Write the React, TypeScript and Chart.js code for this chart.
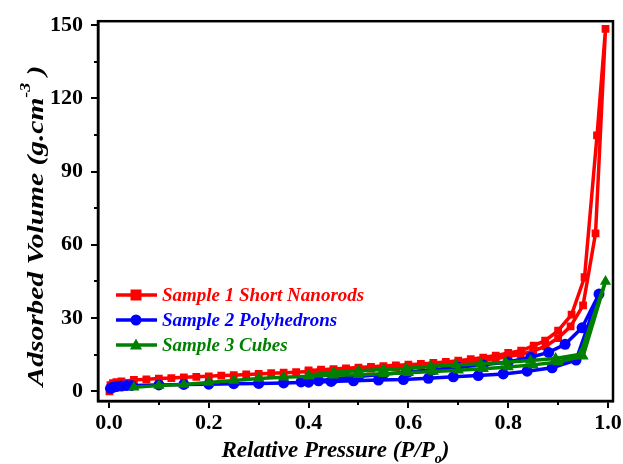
import React, { useEffect, useRef } from 'react';
import { Chart, registerables } from 'chart.js';

Chart.register(...registerables);

// Sample 1 Short Nanorods (adsorption then desorption)
const s1X = [0.001, 0.003, 0.008, 0.015, 0.025, 0.05, 0.075, 0.1, 0.125, 0.15, 0.175, 0.2, 0.225, 0.25, 0.275, 0.3, 0.325, 0.35, 0.375, 0.4, 0.425, 0.45, 0.475, 0.5, 0.525, 0.55, 0.575, 0.6, 0.625, 0.65, 0.675, 0.7, 0.725, 0.75, 0.775, 0.8, 0.825, 0.85, 0.875, 0.9, 0.925, 0.95, 0.975, 0.995,
  0.978, 0.953, 0.927, 0.9, 0.874, 0.851, 0.826, 0.8, 0.775, 0.75, 0.725, 0.7, 0.675, 0.65, 0.625, 0.6, 0.575, 0.55, 0.525, 0.5, 0.475, 0.45, 0.425, 0.4];
const s1Y = [0.0, 2.5, 3.3, 3.7, 4.0, 4.6, 4.9, 5.2, 5.4, 5.7, 5.9, 6.1, 6.4, 6.6, 6.9, 7.1, 7.4, 7.6, 7.8, 8.1, 8.3, 8.6, 8.8, 9.1, 9.3, 9.6, 9.9, 10.2, 10.5, 10.8, 11.2, 11.6, 12.0, 12.6, 13.3, 14.2, 15.1, 16.5, 18.5, 21.8, 26.6, 35.2, 64.7, 148.5,
  104.8, 46.7, 31.4, 24.8, 20.7, 18.7, 16.6, 15.7, 14.6, 13.8, 13.1, 12.5, 12.0, 11.6, 11.2, 10.9, 10.6, 10.3, 10.0, 9.7, 9.4, 9.1, 8.8, 8.5];

// Sample 2 Polyhedrons
const s2X = [0.003, 0.008, 0.015, 0.025, 0.035, 0.045, 0.1, 0.15, 0.2, 0.25, 0.3, 0.35, 0.4, 0.445, 0.49, 0.54, 0.59, 0.64, 0.69, 0.74, 0.79, 0.838, 0.888, 0.936, 0.982,
  0.948, 0.914, 0.881, 0.845, 0.8, 0.75, 0.7, 0.65, 0.6, 0.55, 0.5, 0.45, 0.42, 0.385];
const s2Y = [1.2, 1.6, 1.9, 2.1, 2.3, 2.4, 2.6, 2.8, 2.9, 3.1, 3.2, 3.4, 3.7, 4.0, 4.3, 4.6, 4.8, 5.3, 5.9, 6.4, 7.1, 8.2, 9.6, 12.8, 39.8,
  26.0, 19.2, 15.9, 13.9, 12.0, 10.8, 9.8, 8.8, 7.9, 7.0, 6.0, 5.0, 4.3, 3.8];

// Sample 3 Cubes
const s3X = [0.05, 0.1, 0.15, 0.2, 0.25, 0.3, 0.35, 0.4, 0.45, 0.5, 0.55, 0.6, 0.65, 0.7, 0.75, 0.8, 0.85, 0.9, 0.95, 0.995,
  0.945, 0.895, 0.845, 0.795, 0.745, 0.695, 0.645, 0.595, 0.55, 0.5, 0.45, 0.4];
const s3Y = [1.6, 2.3, 2.8, 3.6, 4.4, 5.2, 5.7, 6.1, 6.5, 6.8, 7.2, 7.6, 8.1, 8.6, 9.2, 9.9, 10.8, 12.0, 14.3, 45.0,
  15.2, 13.4, 12.6, 11.9, 11.3, 10.7, 10.2, 9.3, 8.9, 8.4, 7.8, 6.6];

const seriesNames = ['Sample 1 Short Nanorods', 'Sample 2 Polyhedrons', 'Sample 3 Cubes'];
const seriesColors = ['#ff0000', '#0000ff', '#008000'];
const seriesMarkers = ['rect', 'circle', 'triangle'];

const xMajorTicks = [0, 0.2, 0.4, 0.6, 0.8, 1.0];
const xMinorTicks = [0.1, 0.3, 0.5, 0.7, 0.9];
const yMajorTicks = [0, 30, 60, 90, 120, 150];
const yMinorTicks = [15, 45, 75, 105, 135];

const xTitleMain = 'Relative Pressure (P/P';
const xTitleSub = 'o';
const xTitleEnd = ')';
const yTitleMain = 'Adsorbed Volume (g.cm';
const yTitleSup = '-3';
const yTitleEnd = ' )';

const SERIF = '"Liberation Serif", "Times New Roman", serif';

const toPoints = (xs: number[], ys: number[]) => xs.map((x, i) => ({ x, y: ys[i] }));

function drawMarker(ctx: CanvasRenderingContext2D, kind: string, x: number, y: number, r: number) {
  ctx.beginPath();
  if (kind === 'rect') {
    ctx.rect(x - r, y - r, 2 * r, 2 * r);
  } else if (kind === 'circle') {
    ctx.arc(x, y, r, 0, Math.PI * 2);
  } else {
    ctx.moveTo(x, y - r * 1.2);
    ctx.lineTo(x + r * 1.1, y + r * 0.8);
    ctx.lineTo(x - r * 1.1, y + r * 0.8);
    ctx.closePath();
  }
  ctx.fill();
}

const decorPlugin = {
  id: 'decor',
  afterDraw(chart: any) {
    const { ctx, chartArea: a } = chart;
    const xs = chart.scales.x;
    const ys = chart.scales.y;
    ctx.save();
    ctx.strokeStyle = '#000';
    ctx.lineWidth = 2.5;
    ctx.strokeRect(a.left, a.top, a.right - a.left, a.bottom - a.top);

    // minor ticks
    ctx.lineWidth = 2;
    ctx.beginPath();
    xMinorTicks.forEach((v) => {
      const px = Math.round(xs.getPixelForValue(v));
      ctx.moveTo(px, a.bottom);
      ctx.lineTo(px, a.bottom + 4);
    });
    yMinorTicks.forEach((v) => {
      const py = Math.round(ys.getPixelForValue(v));
      ctx.moveTo(a.left, py);
      ctx.lineTo(a.left - 4, py);
    });
    ctx.stroke();

    // legend
    const rows = [295, 320, 345];
    seriesNames.forEach((name, i) => {
      const y = rows[i];
      ctx.strokeStyle = seriesColors[i];
      ctx.fillStyle = seriesColors[i];
      ctx.lineWidth = 3.5;
      ctx.beginPath();
      ctx.moveTo(116, y);
      ctx.lineTo(157, y);
      ctx.stroke();
      drawMarker(ctx, seriesMarkers[i], 136, y, 5.5);
      ctx.font = 'italic bold 19px ' + SERIF;
      ctx.textBaseline = 'middle';
      ctx.textAlign = 'left';
      ctx.fillText(name, 162, y + 1);
    });

    // x title
    ctx.fillStyle = '#000';
    ctx.textBaseline = 'alphabetic';
    ctx.textAlign = 'left';
    const mainFont = 'italic bold 23px ' + SERIF;
    const smallFont = 'italic bold 14px ' + SERIF;
    ctx.font = mainFont;
    const w1 = ctx.measureText(xTitleMain).width;
    ctx.font = smallFont;
    const w2 = ctx.measureText(xTitleSub).width;
    ctx.font = mainFont;
    const w3 = ctx.measureText(xTitleEnd).width;
    const total = w1 + w2 + w3;
    const x0 = (a.left + a.right) / 2 - total / 2 - 20;
    const by = 457;
    ctx.fillText(xTitleMain, x0, by);
    ctx.font = smallFont;
    ctx.fillText(xTitleSub, x0 + w1, by + 6);
    ctx.font = mainFont;
    ctx.fillText(xTitleEnd, x0 + w1 + w2, by);

    // y title (stretched along its length like the reference)
    ctx.save();
    ctx.translate(43, 226);
    ctx.rotate(-Math.PI / 2);
    ctx.scale(1.28, 1);
    ctx.font = mainFont;
    const v1 = ctx.measureText(yTitleMain).width;
    ctx.font = smallFont;
    const v2 = ctx.measureText(yTitleSup).width;
    ctx.font = mainFont;
    const v3 = ctx.measureText(yTitleEnd).width;
    const vt = v1 + v2 + v3;
    const sx = -vt / 2;
    ctx.fillText(yTitleMain, sx, 0);
    ctx.font = smallFont;
    ctx.fillText(yTitleSup, sx + v1, -13);
    ctx.font = mainFont;
    ctx.fillText(yTitleEnd, sx + v1 + v2, 0);
    ctx.restore();

    ctx.restore();
  },
};

export default function App() {
  const ref = useRef<HTMLCanvasElement | null>(null);
  useEffect(() => {
    if (!ref.current) return;
    const mk = (i: number, xs: number[], ys: number[], order: number, radius: number) => ({
      label: seriesNames[i],
      data: toPoints(xs, ys),
      showLine: true,
      borderColor: seriesColors[i],
      backgroundColor: seriesColors[i],
      pointBackgroundColor: seriesColors[i],
      pointBorderColor: seriesColors[i],
      pointStyle: seriesMarkers[i],
      pointRadius: radius,
      pointBorderWidth: 0,
      borderWidth: 3.5,
      tension: 0,
      order,
    });
    const chart = new Chart(ref.current, {
      type: 'scatter',
      data: {
        datasets: [
          mk(0, s1X, s1Y, 3, 5.5),
          mk(1, s2X, s2Y, 2, 5.5),
          mk(2, s3X, s3Y, 1, 6.5),
        ],
      },
      options: {
        responsive: false,
        animation: false,
        layout: { padding: { top: 19, right: 10, left: 0, bottom: 0 } },
        plugins: { legend: { display: false }, tooltip: { enabled: false } },
        scales: {
          x: {
            type: 'linear',
            min: -0.022,
            max: 1.01,
            afterBuildTicks: (axis: any) => {
              axis.ticks = xMajorTicks.map((v) => ({ value: v }));
            },
            afterFit: (scale: any) => {
              scale.height = 63;
              scale.paddingLeft = 0;
              scale.paddingRight = 0;
            },
            ticks: {
              autoSkip: false,
              maxRotation: 0,
              padding: 2,
              color: '#000',
              font: { family: SERIF, size: 22, weight: 'bold' },
              callback: (v: any) => Number(v).toFixed(1),
            },
            grid: { drawOnChartArea: false, drawTicks: true, tickLength: 7, color: '#000', lineWidth: 2 },
            border: { display: true, color: '#000', width: 2.5 },
          },
          y: {
            type: 'linear',
            min: -4,
            max: 151.6,
            afterBuildTicks: (axis: any) => {
              axis.ticks = yMajorTicks.map((v) => ({ value: v }));
            },
            afterFit: (scale: any) => {
              scale.width = 98;
            },
            ticks: {
              autoSkip: false,
              padding: 8,
              color: '#000',
              font: { family: SERIF, size: 22, weight: 'bold' },
              callback: (v: any) => String(Number(v)),
            },
            grid: { drawOnChartArea: false, drawTicks: true, tickLength: 7, color: '#000', lineWidth: 2 },
            border: { display: true, color: '#000', width: 2.5 },
          },
        },
      },
      plugins: [decorPlugin],
    } as any);
    return () => chart.destroy();
  }, []);
  return (
    <div style={{ position: 'absolute', left: 0, top: 0, width: 623, height: 464, background: '#fff' }}>
      <canvas ref={ref} width={623} height={464} style={{ display: 'block' }} />
    </div>
  );
}
